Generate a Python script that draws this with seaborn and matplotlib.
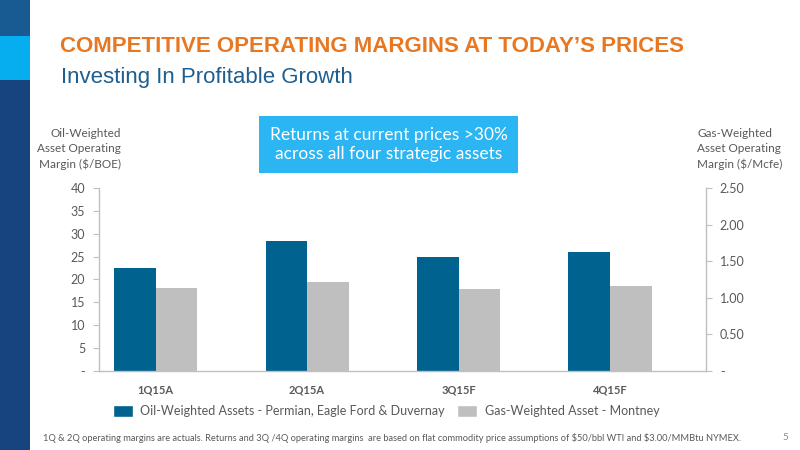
import numpy as np
import pandas as pd
import matplotlib
matplotlib.use("Agg")
import matplotlib.pyplot as plt
import seaborn as sns
from matplotlib.patches import Rectangle

# --- chart data ---
quarters = ["1Q15A", "2Q15A", "3Q15F", "4Q15F"]
oil_margin = [22.4, 28.5, 24.9, 25.9]       # $/BOE, left axis
gas_margin = [1.14, 1.22, 1.12, 1.16]       # $/Mcfe, right axis
oil_name = "Oil-Weighted Assets - Permian, Eagle Ford & Duvernay"
gas_name = "Gas-Weighted Asset - Montney"
left_ticks = [0, 5, 10, 15, 20, 25, 30, 35, 40]
left_labels = ["-", "5", "10", "15", "20", "25", "30", "35", "40"]
right_ticks = [0, 0.5, 1.0, 1.5, 2.0, 2.5]
right_labels = ["-", "0.50", "1.00", "1.50", "2.00", "2.50"]

OIL_C = "#00628F"
GAS_C = "#BFBFBF"
TXT_C = "#595959"

sns.set_style("white")
plt.rcParams["font.family"] = ["Lato", "DejaVu Sans"]

# long tables: each axis gets its own series, the other is NaN so dodge slots stay
df_oil = pd.DataFrame({
    "quarter": quarters * 2,
    "series": [oil_name] * 4 + [gas_name] * 4,
    "value": oil_margin + [np.nan] * 4,
})
df_gas = pd.DataFrame({
    "quarter": quarters * 2,
    "series": [oil_name] * 4 + [gas_name] * 4,
    "value": [np.nan] * 4 + gas_margin,
})
pal = {oil_name: OIL_C, gas_name: GAS_C}

fig = plt.figure(figsize=(8, 4.5), dpi=100)
ax = fig.add_axes([0.12375, 0.1756, 0.75875, 0.4067])
ax2 = ax.twinx()

sns.barplot(data=df_oil, x="quarter", y="value", hue="series",
            hue_order=[oil_name, gas_name], palette=pal, width=0.55,
            dodge=True, ax=ax, saturation=1, legend=False, linewidth=0)
sns.barplot(data=df_gas, x="quarter", y="value", hue="series",
            hue_order=[oil_name, gas_name], palette=pal, width=0.55,
            dodge=True, ax=ax2, saturation=1, legend=False, linewidth=0)

ax.set_xlim(-0.375, 3.635)
ax.set_ylim(0, 40)
ax2.set_ylim(0, 2.5)
ax.set_yticks(left_ticks)
ax.set_yticklabels(left_labels)
ax2.set_yticks(right_ticks)
ax2.set_yticklabels(right_labels)
ax.set_xlabel("")
ax.set_ylabel("")
ax2.set_ylabel("")

for a in (ax, ax2):
    for s in a.spines.values():
        s.set_visible(False)
ax.spines["left"].set_visible(True)
ax.spines["bottom"].set_visible(True)
ax2.spines["right"].set_visible(True)
for s in (ax.spines["left"], ax.spines["bottom"], ax2.spines["right"]):
    s.set_color("#BFBFBF")
    s.set_linewidth(1)

ax.tick_params(axis="y", left=True, length=4, color="#BFBFBF", labelsize=9,
               labelcolor=TXT_C, pad=6)
ax.tick_params(axis="x", bottom=False, labelsize=8, labelcolor=TXT_C, pad=6)
for lbl in ax.get_xticklabels():
    lbl.set_fontweight("bold")
ax2.tick_params(axis="y", right=True, length=4, color="#BFBFBF", labelsize=9,
                labelcolor=TXT_C, pad=6)

# axis captions
fig.text(121 / 800, 1 - 149 / 450, "Oil-Weighted\nAsset Operating\nMargin ($/BOE)",
         ha="right", va="center", fontsize=8.5, color=TXT_C, linespacing=1.45)
fig.text(697 / 800, 1 - 149 / 450, "Gas-Weighted\nAsset Operating\nMargin ($/Mcfe)",
         ha="left", va="center", fontsize=8.5, color=TXT_C, linespacing=1.45)

# callout box
fig.patches.append(Rectangle((259 / 800, 1 - 173 / 450), 259 / 800, 57 / 450,
                             transform=fig.transFigure, facecolor="#2BB5F2",
                             edgecolor="none"))
fig.text(388.5 / 800, 1 - 144.5 / 450,
         "Returns at current prices >30%\nacross all four strategic assets",
         ha="center", va="center", fontsize=12.5, color="white", linespacing=1.3)

# left stripe
fig.patches.append(Rectangle((0, 1 - 36 / 450), 30 / 800, 36 / 450,
                             transform=fig.transFigure, facecolor="#185B93", edgecolor="none"))
fig.patches.append(Rectangle((0, 1 - 80 / 450), 30 / 800, 44 / 450,
                             transform=fig.transFigure, facecolor="#06AEEF", edgecolor="none"))
fig.patches.append(Rectangle((0, 0), 30 / 800, 1 - 80 / 450,
                             transform=fig.transFigure, facecolor="#17447F", edgecolor="none"))

# titles
fig.text(60 / 800, 1 - 46 / 450, "COMPETITIVE OPERATING MARGINS AT TODAY\u2019S PRICES",
         ha="left", va="center", fontsize=16, fontweight="bold", color="#E87722",
         family=["Liberation Sans", "DejaVu Sans"])
fig.text(61 / 800, 1 - 77 / 450, "Investing In Profitable Growth",
         ha="left", va="center", fontsize=16, color="#1F5E8E",
         family=["Liberation Sans", "DejaVu Sans"])

# legend
handles = [Rectangle((0, 0), 1, 1, facecolor=OIL_C), Rectangle((0, 0), 1, 1, facecolor=GAS_C)]
fig.legend(handles, [oil_name, gas_name], loc="center", bbox_to_anchor=(386 / 800, 1 - 411 / 450),
           ncol=2, frameon=False, fontsize=9, handlelength=1.6, handleheight=1.1,
           columnspacing=1.0, handletextpad=0.6, labelcolor=TXT_C)

# footnote and page number
fig.text(43 / 800, 1 - 438 / 450,
         "1Q & 2Q operating margins are actuals. Returns and 3Q /4Q operating margins  are based on flat "
         "commodity price assumptions of \\$50/bbl WTI and \\$3.00/MMBtu NYMEX.",
         ha="left", va="center", fontsize=6.7, color=TXT_C)
fig.text(785 / 800, 1 - 438 / 450, "5", ha="center", va="center", fontsize=7, color="#8C8C8C")

fig.savefig("out.png", dpi=100)
